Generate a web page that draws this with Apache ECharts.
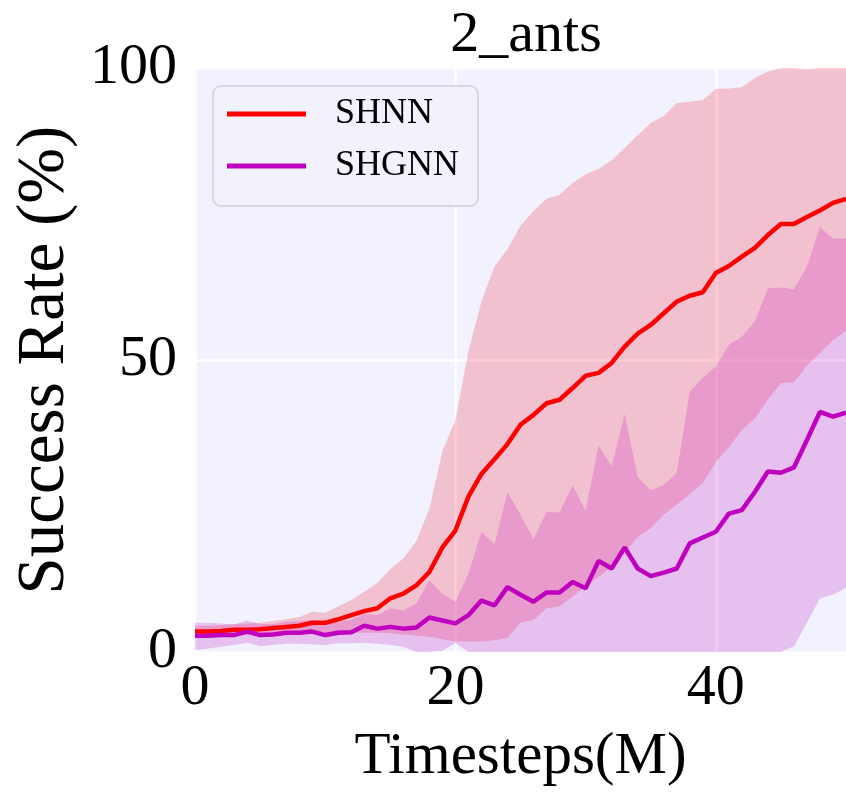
<!DOCTYPE html>
<html>
<head>
<meta charset="utf-8">
<script src="https://cdn.jsdelivr.net/npm/echarts@6/dist/echarts.min.js"></script>
<style>
html,body{margin:0;padding:0;background:#ffffff;}
#chart{width:846px;height:797px;}
</style>
</head>
<body>
<div id="chart"></div>
<script>
// Timesteps (M)
const steps = [0,1,2,3,4,5,6,7,8,9,10,11,12,13,14,15,16,17,18,19,20,21,22,23,24,25,26,27,28,29,30,31,32,33,34,35,36,37,38,39,40,41,42,43,44,45,46,47,48,49,50];

// SHNN mean and band
const shnnMean = [3.5,3.5,3.6,3.8,3.8,3.9,4.1,4.3,4.5,5.0,5.0,5.6,6.3,7.0,7.5,9.2,10.0,11.4,13.7,17.9,20.8,26.6,30.5,33.0,35.6,38.9,40.6,42.6,43.2,45.2,47.3,47.8,49.5,52.3,54.5,56.0,58.0,60.0,61.0,61.6,64.9,66.1,67.7,69.2,71.4,73.3,73.3,74.5,75.6,76.9,77.6];
const shnnUpper = [4.5,4.5,4.6,4.8,4.9,5.0,5.3,5.6,6.0,6.9,6.7,7.8,8.9,10.3,11.8,14.2,16.0,19.0,24.5,34.4,39.7,51.5,60.0,66.0,69.0,73.0,75.5,77.6,78.3,80.3,81.8,82.7,84.2,86.3,88.5,90.6,91.8,94.0,94.2,94.5,96.4,96.5,96.7,98.3,99.4,100,100,99.8,100,100,100];
const shnnLower = [2.6,2.6,2.7,2.8,2.9,3.0,3.0,3.1,3.1,3.2,3.2,3.2,3.3,3.3,3.3,3.2,3.0,2.8,2.6,2.2,1.8,1.8,1.8,2.0,2.4,5.0,5.5,7.5,7.8,9.5,11.2,12.9,14.6,17.0,19.7,21.2,23.5,25.2,27.0,28.9,32.5,35.0,38.0,40.0,43.2,46.0,46.2,49.0,51.2,53.4,55.0];

// SHGNN mean and band
const shgnnMean = [2.8,2.8,2.9,2.9,3.5,2.9,3.0,3.3,3.3,3.5,2.9,3.3,3.4,4.5,4.0,4.3,4.0,4.2,5.9,5.4,4.9,6.3,8.8,8.0,11.1,9.8,8.6,10.2,10.2,12.0,10.9,15.6,14.3,17.9,14.3,13.0,13.6,14.3,18.6,19.6,20.6,23.7,24.3,27.4,30.9,30.7,31.6,36.3,41.1,40.3,41.0];
const shgnnUpper = [5.0,5.0,4.9,4.7,5.4,4.8,4.8,5.2,5.3,5.5,5.0,5.2,5.5,6.5,6.3,7.5,7.1,8.3,12.3,10.0,8.6,13.5,20.6,18.4,27.3,23.5,19.3,24.0,23.9,28.6,24.2,35.3,31.8,40.8,30.0,27.7,28.6,30.7,44.6,46.9,48.9,52.6,54.0,56.6,62.3,62.4,62.1,66.0,72.8,70.8,70.8];
const shgnnLower = [0.3,0.6,0.9,1.2,1.6,1.0,1.2,1.4,1.4,1.3,1.2,1.5,1.5,1.6,1.4,1.2,0.9,0,0,0.2,1.5,0,0,0,0,0,0,0,0,0,0,0,0,0,0,0,0,0,0,0,0,0,0,0,0,0,1.0,5.0,9.2,9.8,11.0];

const seriesNames = ['SHNN','SHGNN'];
const xTicks = [0,20,40];
const yTicks = [0,50,100];

const FONT = '"Liberation Serif","Times New Roman",serif';

function diff(up,lo){ return up.map((u,i)=>Math.max(0, u-lo[i])); }
const isTick = (idx)=> xTicks.indexOf(steps[idx]) >= 0;

const chart = echarts.init(document.getElementById('chart'), null, {renderer:'canvas'});

const option = {
  animation:false,
  backgroundColor:'#ffffff',
  title:{
    text:'2_ants',
    left:521, top:2, textAlign:'center',
    textStyle:{fontFamily:FONT, fontSize:58, fontWeight:'normal', color:'#000'}
  },
  grid:{left:195, top:68, width:652, height:584, show:true, backgroundColor:'#F1F2FD', borderWidth:0},
  legend:{
    left:213, top:86, orient:'vertical',
    data:[{name:seriesNames[0]},{name:seriesNames[1]}],
    icon:'rect', itemWidth:79, itemHeight:5, itemGap:16,
    padding:[10,19,22,14],
    backgroundColor:'rgba(242,242,253,0.85)',
    borderColor:'#d8d8e2', borderWidth:2, borderRadius:8,
    textStyle:{fontFamily:FONT, fontSize:36, color:'#000', padding:[0,0,0,24]}
  },
  xAxis:{
    type:'category', data:steps.map(String), boundaryGap:false,
    name:'Timesteps(M)', nameLocation:'middle', nameGap:76,
    nameTextStyle:{fontFamily:FONT, fontSize:59, color:'#000'},
    axisLine:{show:false}, axisTick:{show:false},
    axisLabel:{fontFamily:FONT, fontSize:58, color:'#000', margin:8, interval:(i)=>isTick(i)},
    splitLine:{show:true, interval:(i)=>isTick(i), lineStyle:{color:'rgba(255,255,255,0.9)', width:2.5}}
  },
  yAxis:{
    type:'value', min:yTicks[0], max:yTicks[yTicks.length-1], interval:50,
    name:'Success Rate (%)', nameLocation:'middle', nameGap:110,
    nameTextStyle:{fontFamily:FONT, fontSize:67, color:'#000'},
    axisLine:{show:false}, axisTick:{show:false},
    axisLabel:{fontFamily:FONT, fontSize:58, color:'#000', margin:18},
    splitLine:{show:true, lineStyle:{color:'rgba(255,255,255,0.9)', width:2.5}}
  },
  series:[
    {name:'shnnLo', type:'line', stack:'a', data:shnnLower, symbol:'none', lineStyle:{opacity:0}, silent:true, z:1},
    {name:'shnnBand', type:'line', stack:'a', data:diff(shnnUpper,shnnLower), symbol:'none', lineStyle:{opacity:0},
      areaStyle:{color:'rgba(248,0,25,0.2)', opacity:1}, silent:true, z:1},
    {name:'shgnnLo', type:'line', stack:'b', data:shgnnLower, symbol:'none', lineStyle:{opacity:0}, silent:true, z:2},
    {name:'shgnnBand', type:'line', stack:'b', data:diff(shgnnUpper,shgnnLower), symbol:'none', lineStyle:{opacity:0},
      areaStyle:{color:'rgba(191,0,191,0.2)', opacity:1}, silent:true, z:2},
    {name:seriesNames[0], type:'line', data:shnnMean, symbol:'none', color:'#FF0000',
      lineStyle:{color:'#FF0000', width:4.5}, z:4},
    {name:seriesNames[1], type:'line', data:shgnnMean, symbol:'none', color:'#BF00BF',
      lineStyle:{color:'#BF00BF', width:4.5}, z:5}
  ]
};
chart.setOption(option);
</script>
</body>
</html>
